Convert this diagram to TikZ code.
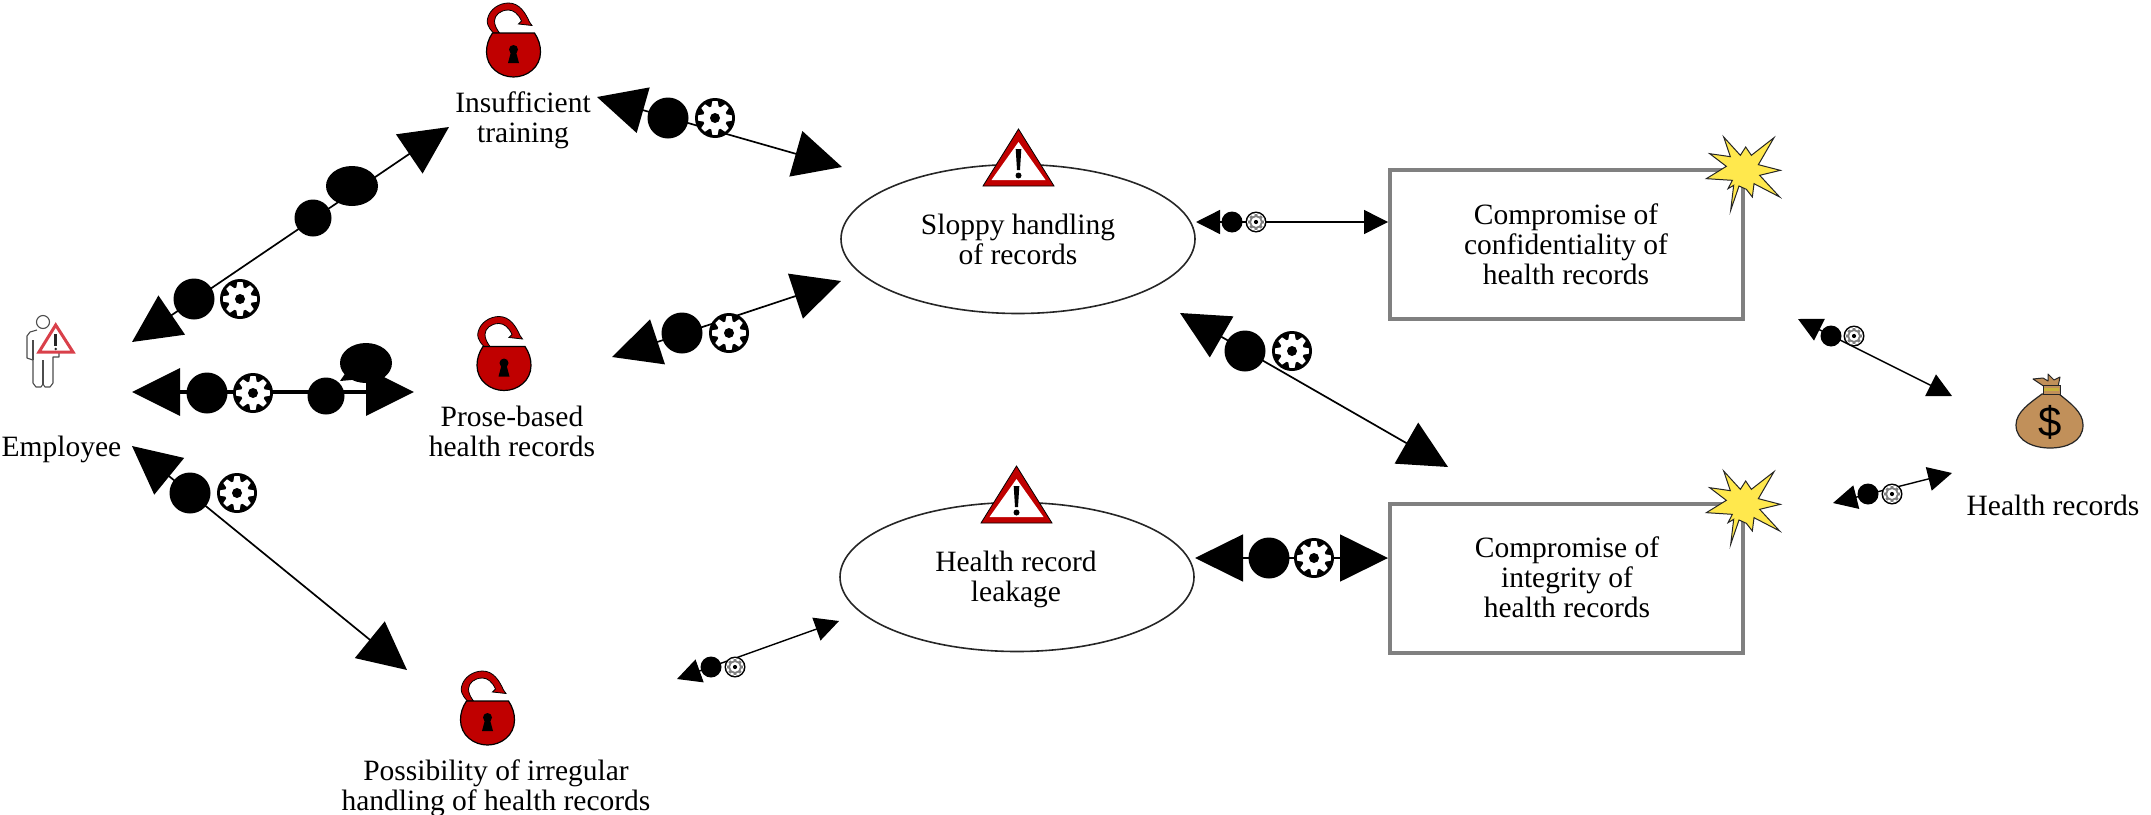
\documentclass[tikz,border=0pt]{standalone}
\usepackage{fontspec}
\setmainfont{Liberation Serif}
\newfontfamily\dollarfont{Liberation Sans}
\usetikzlibrary{arrows.meta,shapes.geometric}
\definecolor{lockred}{HTML}{C00000}
\definecolor{boxgray}{HTML}{808080}
\definecolor{staryellow}{HTML}{FFE84D}
\definecolor{bagbrown}{HTML}{C1905A}
\definecolor{tiegold}{HTML}{C9B23A}
\definecolor{warnpink}{HTML}{D9404A}
\tikzset{
  bigedge/.style={line width=1.7pt,{Triangle[length=48pt,width=47pt]}-{Triangle[length=48pt,width=47pt]}},
  smalledge/.style={line width=1.4pt,{Triangle[length=24pt,width=24pt]}-{Triangle[length=24pt,width=24pt]}},
  dotbig/.style={circle,fill=black,inner sep=0pt,minimum size=41pt},
  dotmid/.style={circle,fill=black,inner sep=0pt,minimum size=37pt},
  dotsmall/.style={circle,fill=black,inner sep=0pt,minimum size=21pt},
  label/.style={inner sep=0pt,align=center,font=\fontsize{29.5}{30}\selectfont},
  threat/.style={ellipse,draw=black!85,line width=1.6pt,fill=white,minimum width=354pt,minimum height=149pt,inner sep=0pt},
  incident/.style={rectangle,draw=boxgray,line width=4pt,fill=white,minimum width=353pt,minimum height=149pt,inner sep=0pt},
  bubble/.style={ellipse,fill=black,inner sep=0pt,minimum width=52pt,minimum height=40pt},
  pics/gearmark/.style={code={
    \begin{scope}[scale=#1]
      \fill[black] (0,0) circle (1);
      \fill[white] (0,0) circle (.6);
      \foreach \a in {0,45,...,315}
        \fill[white,rotate=\a] (-.2,.5) -- (-.13,.84) -- (.13,.84) -- (.2,.5) -- cycle;
      \fill[black] (0,0) circle (.25);
    \end{scope}}},
  pics/gearthin/.style={code={
    \begin{scope}[scale=#1]
      \fill[black] (0,0) circle (1);
      \fill[white] (0,0) circle (.85);
      \fill[black!50] (0,0) circle (.6);
      \foreach \a in {0,45,...,315}
        \fill[black!50,rotate=\a] (-.17,.5) -- (-.12,.76) -- (.12,.76) -- (.17,.5) -- cycle;
      \fill[white] (0,0) circle (.46);
      \fill[black] (0,0) circle (.2);
    \end{scope}}},
  pics/openlock/.style={code={
    \fill[lockred,draw=black,line width=.8pt] (-20,-22) .. controls (-26,-28) and (-27,-33) .. (-26,-36) .. controls (-24,-46) and (-14,-52) .. (-5,-52) .. controls (6,-52) and (12,-42) .. (16,-33) -- (18.5,-29.5) -- (5,-31) -- (8,-34) .. controls (5,-41) and (0,-45) .. (-5,-45) .. controls (-13,-45) and (-19,-40) .. (-19,-34) .. controls (-19,-30) and (-17,-26) .. (-14,-22) -- cycle;
    \fill[lockred,draw=black,line width=1.2pt] (-21,-22) .. controls (-25,-16) and (-27,-10) .. (-27,-3) .. controls (-27,12) and (-14,22) .. (0,22) .. controls (14,22) and (27,12) .. (27,-3) .. controls (27,-10) and (25,-16) .. (21,-22) -- cycle;
    \fill[black] (0,-5.5) circle (4.5);
    \fill[black] (-2.3,-4) -- (2.3,-4) -- (5.5,8) -- (-5.5,8) -- cycle;
  }},
  pics/warning/.style={code={
    \fill[lockred,draw=black,line width=.8pt] (0,-57) -- (35.5,0) -- (-35.5,0) -- cycle;
    \fill[white] (0,-44) -- (27,-6) -- (-27,-6) -- cycle;
    \fill[black] (-2.8,-37) -- (2.8,-37) -- (1.5,-16) -- (-1.5,-16) -- cycle;
    \fill[black] (0,-10.5) circle (3);
  }},
  pics/burst/.style={code={
    \begin{scope}[x=.3333pt,y=-.3333pt]
    \fill[staryellow,draw=black!85,line width=1pt,line join=miter]
      (-37,115) -- (-12,42) -- (10,52) -- (28,75) -- (33,35) -- (110,75) -- (50,10) -- (112,-5) -- (46,-22) -- (93,-103) -- (25,-50) -- (8,-75) -- (-8,-50) -- (-58,-105) -- (-38,-46) -- (-100,-55) -- (-50,-17) -- (-110,20) -- (-32,25) -- (-45,50) -- (-28,40) -- cycle;
    \end{scope}
  }}
}
\begin{document}
\begin{tikzpicture}[x=1pt,y=-1pt,every node/.append style={text=black}]
\useasboundingbox (0,0) rectangle (2151,814);
\fill[white] (0,0) rectangle (2151,814);

% arrow end points
\coordinate (e1a) at (132,342);  \coordinate (e1b) at (449,127);
\coordinate (e2a) at (132,392);  \coordinate (e2b) at (414,392);
\coordinate (e3a) at (597,97);   \coordinate (e3b) at (842,167);
\coordinate (e4a) at (612,357);  \coordinate (e4b) at (841,281);
\coordinate (e5a) at (132,446);  \coordinate (e5b) at (407,670);
\coordinate (e6a) at (1196,222); \coordinate (e6b) at (1388,222);
\coordinate (e7a) at (1180,313); \coordinate (e7b) at (1448,467);
\coordinate (e8a) at (1195,558); \coordinate (e8b) at (1388,558);
\coordinate (e9a) at (677,679);  \coordinate (e9b) at (839,621);
\coordinate (e10a) at (1798,319);\coordinate (e10b) at (1952,396);
\coordinate (e11a) at (1833,503);\coordinate (e11b) at (1952,473);

% shapes
\node[threat] (sloppy) at (1018,239) {};
\node[threat] (leak) at (1017,577) {};
\node[incident] (conf) at (1566.5,244.5) {};
\node[incident] (integ) at (1566.5,578.5) {};

% connectors
\draw[bigedge] (e1a) -- (e1b);
\draw[bigedge,line width=3.5pt] (e2a) -- (e2b);
\draw[bigedge] (e3a) -- (e3b);
\draw[bigedge] (e4a) -- (e4b);
\draw[bigedge] (e5a) -- (e5b);
\draw[smalledge] (e6a) -- (e6b);
\draw[bigedge] (e7a) -- (e7b);
\draw[bigedge] (e8a) -- (e8b);
\draw[smalledge] (e9a) -- (e9b);
\draw[smalledge] (e10a) -- (e10b);
\draw[smalledge] (e11a) -- (e11b);

% connector marks
\node[dotbig] (d1) at (194,299) {};  \pic at (240,299) {gearmark=20};
\node[dotmid] (m1) at (313,218) {};  \node[bubble] (b1) at (352,186) {};
\node[dotbig] (d2) at (207,393) {};  \pic at (253,393) {gearmark=20};
\node[dotmid] (m2) at (326,396) {};  \node[bubble] (b2) at (366,363) {};
\fill[black] (340,381) -- (349,368) -- (362,379) -- cycle;
\node[dotbig] (d3) at (668,118) {};  \pic at (715,118) {gearmark=20};
\node[dotbig] (d4) at (682,333) {};  \pic at (729,333) {gearmark=20};
\node[dotbig] (d5) at (190,493) {};  \pic at (237,493) {gearmark=20};
\node[dotsmall] (d6) at (1232,222) {}; \pic at (1256,222) {gearthin=10.5};
\node[dotbig] (d7) at (1245,351) {}; \pic at (1292,351) {gearmark=20};
\node[dotbig] (d8) at (1269,558) {}; \pic at (1314,558) {gearmark=20};
\node[dotsmall] (d9) at (711,667) {}; \pic at (735,667) {gearthin=10.5};
\node[dotsmall] (d10) at (1831,336) {}; \pic at (1854,336) {gearthin=10.5};
\node[dotsmall] (d11) at (1868,494) {}; \pic at (1892,494) {gearthin=10.5};

% icons
\pic at (513.5,55) {openlock};
\pic at (504,368.5) {openlock};
\pic at (487.5,723) {openlock};
\pic at (1018.5,186) {warning};
\pic at (1016.5,523) {warning};
\pic at (1743,172) {burst};
\pic at (1743,506) {burst};

% employee
\draw[black!70,line width=1.1pt] (43,322) circle (6.5);
\draw[black!70,line width=1.1pt,line join=round] (37,330) -- (30,332) -- (27,336) -- (27,358) -- (33,360) -- (33,383) -- (36,387) -- (41,387) -- (43,384) -- (45,387) -- (50,387) -- (53,383) -- (53,357) -- (59,357) -- (59,350);
\draw[black!70,line width=1.1pt] (33,340) -- (33,360) (43,360) -- (43,384);
\fill[white,draw=warnpink,line width=3pt,line join=miter] (55.7,325) -- (73,352) -- (39,352) -- cycle;
\fill[black!85] (54.2,334) rectangle (57.2,346);
\fill[black!85] (55.7,349) circle (1.4);

% money bag
\fill[bagbrown,draw=black!85,line width=1.2pt] (2042,394) .. controls (2030,403) and (2016,412) .. (2016,425) .. controls (2016,442) and (2035,448) .. (2050,448) .. controls (2066,448) and (2083,442) .. (2083,425) .. controls (2083,412) and (2070,403) .. (2059,394) -- cycle;
\fill[bagbrown,draw=black!85,line width=1pt,line join=round] (2045,387) -- (2033,379) -- (2043,378) -- (2048,381) -- (2048,374) -- (2054,380) -- (2060,377) -- (2058,387) -- cycle;
\fill[bagbrown,draw=black!85,line width=.8pt] (2043,385) rectangle (2060,394);
\fill[tiegold] (2044,387.5) rectangle (2059,391);

\node[inner sep=0pt,font=\dollarfont\fontsize{42}{42}\selectfont] (dollar) at (2050,422) {\$};

% labels
\node[label] (lemp) at (61.5,449) {Employee};
\node[label] (lins) at (523,120.5) {Insufficient\\training};
\node[label] (lpro) at (512,431.5) {Prose-based\\health records};
\node[label] (lpos) at (496,788.5) {Possibility of irregular\\handling of health records};
\node[label] (lslo) at (1018,239) {Sloppy handling\\of records};
\node[label] (llea) at (1016,579.5) {Health record\\leakage};
\node[label] (lcon) at (1566,244.5) {Compromise of\\confidentiality of\\health records};
\node[label] (lint) at (1567,577.5) {Compromise of\\integrity of\\health records};
\node[label] (lhea) at (2053,505) {Health records};
\end{tikzpicture}
\end{document}
